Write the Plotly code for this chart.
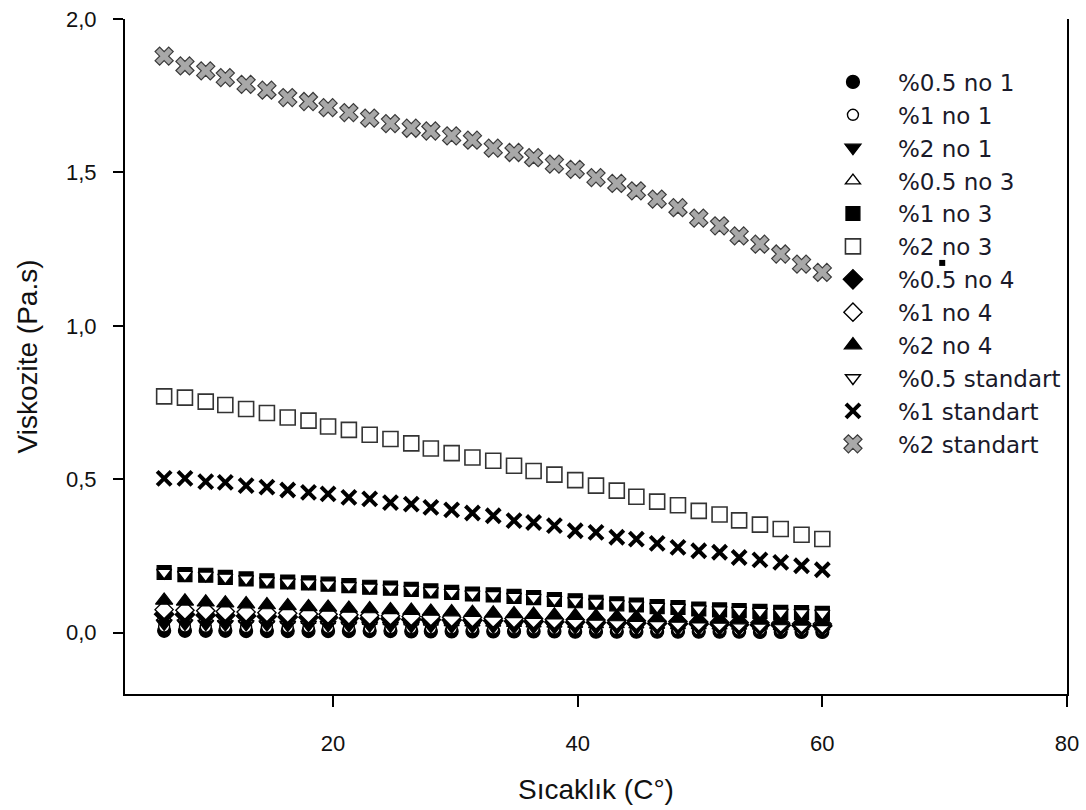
import plotly.graph_objects as go

# Temperature (°C) at each measurement step
sicaklik = [6.2, 7.9, 9.6, 11.2, 12.9, 14.6, 16.3, 18.0, 19.6, 21.3, 23.0,
            24.7, 26.4, 28.0, 29.7, 31.4, 33.1, 34.8, 36.4, 38.1, 39.8, 41.5,
            43.2, 44.8, 46.5, 48.2, 49.9, 51.6, 53.2, 54.9, 56.6, 58.3, 60.0]

# Viscosity (Pa.s) per sample
v_05_no1 = [0.006, 0.006, 0.006, 0.006, 0.005, 0.005, 0.005, 0.005, 0.005, 0.005, 0.005,
            0.005, 0.004, 0.004, 0.004, 0.004, 0.004, 0.004, 0.004, 0.004, 0.003, 0.003,
            0.003, 0.003, 0.003, 0.003, 0.003, 0.003, 0.003, 0.002, 0.002, 0.002, 0.002]
v_1_no1 = [0.020, 0.020, 0.019, 0.019, 0.018, 0.018, 0.017, 0.017, 0.016, 0.016, 0.015,
           0.015, 0.015, 0.014, 0.014, 0.014, 0.013, 0.013, 0.013, 0.012, 0.012, 0.012,
           0.011, 0.011, 0.011, 0.010, 0.010, 0.010, 0.009, 0.009, 0.009, 0.008, 0.008]
v_2_no1 = [0.030, 0.030, 0.029, 0.028, 0.028, 0.027, 0.026, 0.026, 0.025, 0.024, 0.024,
           0.023, 0.022, 0.022, 0.021, 0.021, 0.020, 0.019, 0.019, 0.018, 0.018, 0.017,
           0.017, 0.016, 0.016, 0.015, 0.015, 0.014, 0.014, 0.013, 0.013, 0.012, 0.012]
v_05_no3 = [0.050, 0.049, 0.047, 0.046, 0.045, 0.044, 0.042, 0.041, 0.040, 0.039, 0.038,
            0.037, 0.036, 0.035, 0.034, 0.033, 0.032, 0.031, 0.030, 0.029, 0.028, 0.027,
            0.027, 0.026, 0.025, 0.024, 0.024, 0.023, 0.022, 0.022, 0.021, 0.021, 0.020]
v_1_no3 = [0.196, 0.189, 0.187, 0.180, 0.175, 0.169, 0.165, 0.162, 0.158, 0.153, 0.148,
           0.145, 0.141, 0.136, 0.131, 0.126, 0.123, 0.118, 0.114, 0.108, 0.104, 0.099,
           0.094, 0.090, 0.085, 0.082, 0.077, 0.074, 0.072, 0.069, 0.066, 0.065, 0.063]
v_2_no3 = [0.770, 0.766, 0.753, 0.742, 0.729, 0.716, 0.701, 0.691, 0.672, 0.661, 0.645,
           0.631, 0.617, 0.600, 0.585, 0.571, 0.560, 0.544, 0.527, 0.515, 0.497, 0.479,
           0.463, 0.443, 0.427, 0.415, 0.397, 0.385, 0.366, 0.352, 0.338, 0.319, 0.305]
v_05_no4 = [0.060, 0.059, 0.057, 0.056, 0.054, 0.053, 0.051, 0.050, 0.049, 0.047, 0.046,
            0.045, 0.043, 0.042, 0.041, 0.040, 0.039, 0.037, 0.036, 0.035, 0.034, 0.033,
            0.032, 0.031, 0.030, 0.029, 0.028, 0.027, 0.026, 0.025, 0.024, 0.023, 0.022]
v_1_no4 = [0.075, 0.073, 0.071, 0.069, 0.067, 0.065, 0.063, 0.061, 0.060, 0.058, 0.056,
           0.055, 0.053, 0.052, 0.050, 0.049, 0.047, 0.046, 0.045, 0.043, 0.042, 0.041,
           0.040, 0.039, 0.037, 0.036, 0.035, 0.034, 0.033, 0.032, 0.031, 0.029, 0.028]
v_2_no4 = [0.105, 0.102, 0.099, 0.096, 0.093, 0.090, 0.087, 0.084, 0.082, 0.079, 0.077,
           0.074, 0.072, 0.069, 0.067, 0.065, 0.063, 0.061, 0.059, 0.057, 0.055, 0.053,
           0.051, 0.049, 0.048, 0.046, 0.044, 0.043, 0.041, 0.040, 0.038, 0.037, 0.035]
v_05_std = [0.196, 0.189, 0.187, 0.180, 0.175, 0.169, 0.165, 0.162, 0.158, 0.153, 0.148,
            0.145, 0.141, 0.136, 0.131, 0.126, 0.123, 0.118, 0.114, 0.108, 0.104, 0.099,
            0.094, 0.090, 0.085, 0.082, 0.077, 0.074, 0.072, 0.069, 0.066, 0.065, 0.063]
v_1_std = [0.503, 0.503, 0.492, 0.490, 0.479, 0.474, 0.465, 0.457, 0.452, 0.441, 0.436,
           0.424, 0.419, 0.408, 0.400, 0.390, 0.381, 0.365, 0.359, 0.349, 0.332, 0.327,
           0.311, 0.305, 0.291, 0.278, 0.267, 0.262, 0.245, 0.237, 0.229, 0.218, 0.205]
v_2_std = [1.879, 1.847, 1.831, 1.809, 1.787, 1.768, 1.744, 1.731, 1.711, 1.695, 1.677,
           1.659, 1.644, 1.635, 1.619, 1.605, 1.579, 1.565, 1.548, 1.527, 1.510, 1.483,
           1.464, 1.440, 1.413, 1.385, 1.351, 1.326, 1.293, 1.266, 1.234, 1.201, 1.174]

# Lone point near the legend
tek_x = [69.8]
tek_y = [1.205]

series_names = ["%0.5 no 1", "%1 no 1", "%2 no 1", "%0.5 no 3", "%1 no 3", "%2 no 3",
                "%0.5 no 4", "%1 no 4", "%2 no 4", "%0.5 standart", "%1 standart",
                "%2 standart"]
series_values = [v_05_no1, v_1_no1, v_2_no1, v_05_no3, v_1_no3, v_2_no3,
                 v_05_no4, v_1_no4, v_2_no4, v_05_std, v_1_std, v_2_std]

y_tick_vals = [0.0, 0.5, 1.0, 1.5, 2.0]
y_tick_text = ["0,0", "0,5", "1,0", "1,5", "2,0"]
x_tick_vals = [20, 40, 60, 80]

# symbol, fill, outline, outline width, size
styles = [
    ("circle", "black", "black", 1.2, 13),
    ("circle", "white", "black", 1.4, 11),
    ("triangle-down", "black", "black", 1.2, 14),
    ("triangle-up", "white", "black", 1.4, 13),
    ("square", "black", "black", 1.2, 14),
    ("square", "white", "#333333", 1.6, 15),
    ("diamond", "black", "black", 1.2, 15),
    ("diamond", "white", "black", 1.4, 14),
    ("triangle-up", "black", "black", 1.2, 15),
    ("triangle-down", "white", "black", 1.4, 13),
    ("x-thin", "black", "black", 4.0, 14),
    ("x", "#a8a8a8", "#3a3a3a", 1.2, 16),
]

fig = go.Figure()
for i, (name, vals, st) in enumerate(zip(series_names, series_values, styles)):
    sym, fill, edge, lw, size = st
    fig.add_trace(go.Scatter(
        x=sicaklik, y=vals, mode="markers", name=name,
        legendgroup=f"g{i}",
        marker=dict(symbol=sym, color=fill, size=size,
                    line=dict(color=edge, width=lw)),
    ))

fig.add_trace(go.Scatter(
    x=tek_x, y=tek_y, mode="markers", showlegend=False,
    marker=dict(symbol="square", color="black", size=6, line=dict(width=0)),
))

fig.update_layout(
    width=1086, height=810,
    margin=dict(l=125, r=19, t=19, b=116),
    paper_bgcolor="white", plot_bgcolor="white",
    font=dict(family="Liberation Sans, Arial, sans-serif", color="#111111", size=22),
    showlegend=True,
    legend=dict(
        x=0.725, y=0.9386, xanchor="left", yanchor="top",
        bgcolor="rgba(0,0,0,0)", borderwidth=0,
        font=dict(family="DejaVu Sans, sans-serif", size=23, color="#1a1a2a"),
        tracegroupgap=0, itemwidth=80,
    ),
    xaxis=dict(
        range=[3, 80], tickvals=x_tick_vals, ticks="outside", ticklen=11,
        tickwidth=1.5, tickcolor="black", showline=True, linecolor="black",
        linewidth=2, mirror=False, showgrid=False, zeroline=False,
        tickfont=dict(size=22), ticklabelstandoff=18, automargin=False,
        title=dict(text="Sıcaklık (C°)", font=dict(size=28), standoff=24),
    ),
    yaxis=dict(
        range=[-0.2, 2.0], tickvals=y_tick_vals, ticktext=y_tick_text,
        ticks="outside", ticklen=10, tickwidth=1.5, tickcolor="black",
        showline=True, linecolor="black", linewidth=2, mirror=True,
        showgrid=False, zeroline=False, tickfont=dict(size=22),
        ticklabelstandoff=12, automargin=False,
        title=dict(text="Viskozite (Pa.s)", font=dict(size=28), standoff=20),
    ),
)

fig.write_html("out.html")
